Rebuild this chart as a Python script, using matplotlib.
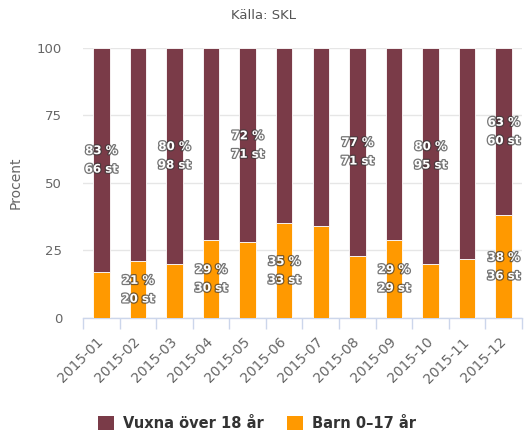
import matplotlib
matplotlib.use("Agg")
import matplotlib.pyplot as plt
import matplotlib.patheffects as pe
import matplotlib.transforms as mtransforms
from matplotlib.patches import Patch
import numpy as np

months = ["2015-01", "2015-02", "2015-03", "2015-04", "2015-05", "2015-06",
          "2015-07", "2015-08", "2015-09", "2015-10", "2015-11", "2015-12"]
barn_pct = [17, 21, 20, 29, 28, 35, 34, 23, 29, 20, 22, 38]
vuxna_pct = [83, 79, 80, 71, 72, 65, 66, 77, 71, 80, 78, 62]

# Data labels shown in the chart: (index, percent text, count text)
vuxna_labels = [(0, "83 %", "66 st"), (2, "80 %", "98 st"), (4, "72 %", "71 st"),
                (7, "77 %", "71 st"), (9, "80 %", "95 st"), (11, "63 %", "60 st")]
barn_labels = [(1, "21 %", "20 st"), (3, "29 %", "30 st"), (5, "35 %", "33 st"),
               (8, "29 %", "29 st"), (11, "38 %", "36 st")]

c_vuxna = "#7a3b48"
c_barn = "#ff9900"
grid_c = "#e6e6e6"
axis_c = "#ccd6eb"
text_c = "#666666"

fig = plt.figure(figsize=(5.27, 4.37), dpi=100)
ax = fig.add_axes([0.1575, 0.2723, 0.8330, 0.6187])

x = np.arange(len(months))
w = 0.45
ax.bar(x, barn_pct, w, color=c_barn, edgecolor="white", linewidth=0.6, zorder=3)
ax.bar(x, vuxna_pct, w, bottom=barn_pct, color=c_vuxna, edgecolor="white", linewidth=0.6, zorder=3)

ax.set_xlim(-0.5, len(months) - 0.5)
ax.set_ylim(0, 100)
ax.set_yticks([0, 25, 50, 75, 100])
ax.yaxis.grid(True, color=grid_c, linewidth=1, zorder=0)
ax.tick_params(axis="y", length=0, pad=15, labelsize=9.5, labelcolor=text_c)

ax.set_xticks(x)
ax.set_xticklabels(months, rotation=45, ha="right", rotation_mode="anchor",
                   fontsize=10, color=text_c)
ax.tick_params(axis="x", which="major", length=0, pad=10)
offset = mtransforms.ScaledTranslation(-5 / 100, -3 / 100, fig.dpi_scale_trans)
for lbl in ax.get_xticklabels():
    lbl.set_transform(lbl.get_transform() + offset)
ax.set_xticks(np.arange(-0.5, len(months)), minor=True)
ax.tick_params(axis="x", which="minor", length=8, color=axis_c, width=1)

for s in ["top", "right", "left"]:
    ax.spines[s].set_visible(False)
ax.spines["bottom"].set_color(axis_c)
ax.spines["bottom"].set_linewidth(1)

ax.set_ylabel("Procent", color=text_c, fontsize=10)
ax.yaxis.set_label_coords(-0.138, 0.5)
fig.text(0.5, 0.965, "Källa: SKL", ha="center", va="center", fontsize=9.5, color="#555555")

outline = [pe.withStroke(linewidth=1.8, foreground="#3a3a3a", alpha=0.7)]
for i, p, n in vuxna_labels:
    yc = barn_pct[i] + vuxna_pct[i] / 2
    ax.text(i, yc, p + "\n" + n, ha="center", va="center", fontsize=8.5,
            fontweight="bold", color="white", linespacing=1.55,
            path_effects=outline, zorder=5)
for i, p, n in barn_labels:
    yc = barn_pct[i] / 2
    ax.text(i, yc, p + "\n" + n, ha="center", va="center", fontsize=8.5,
            fontweight="bold", color="white", linespacing=1.55,
            path_effects=outline, zorder=5)

handles = [Patch(facecolor=c_vuxna, label="Vuxna över 18 år"),
           Patch(facecolor=c_barn, label="Barn 0–17 år")]
leg = fig.legend(handles=handles, loc="center", bbox_to_anchor=(0.488, 0.03), ncol=2,
                 frameon=False, prop={"weight": "bold", "size": 10.5},
                 handlelength=1.1, handleheight=1.1, columnspacing=1.6, handletextpad=0.6)
for t in leg.get_texts():
    t.set_color("#333333")

fig.savefig("out.png", dpi=100)
